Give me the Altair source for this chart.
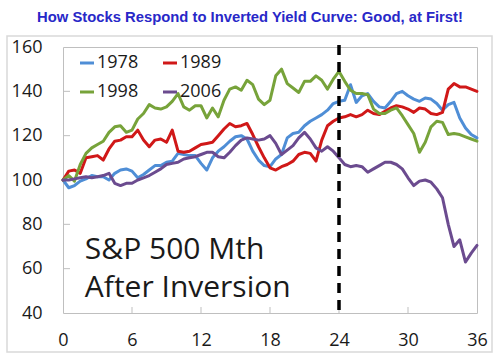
import altair as alt
import pandas as pd

# x positions: half-month steps 0 .. 36
months = [i / 2 for i in range(73)]

series_names = ["1978", "1989", "1998", "2006"]
series_colors = ["#4F8ED6", "#D01818", "#77A33A", "#6B4B8F"]

s1978 = [100, 96.5, 97.5, 99.5, 100.5, 102, 101.5, 101.5, 100, 103, 104.5, 105, 104,
         101, 102.5, 104.5, 106.5, 106.5, 108, 108.5, 112, 111.5, 111, 111, 107.5, 104.5,
         110, 113, 115, 117.5, 119.5, 120, 118.5, 113, 109, 106.5, 106, 109.5, 111.5,
         119, 121, 121.5, 124.5, 126.5, 128, 129.5, 131.5, 134.5, 135.5,
         136, 143, 135, 138, 139, 135.5, 133, 132.5, 135.5, 139, 140, 138, 136.5, 135.5,
         137, 136.5, 134.5, 131.5, 134, 135, 128, 123.5, 120.5, 119]
s1989 = [100, 104, 104.5, 103, 110, 110.5, 111, 109, 114, 117.5, 118, 119.5, 119.5,
         122.5, 118, 115, 118, 118.5, 117, 122.5, 113, 112.5, 113, 114.5, 116, 116.5,
         117, 120, 123, 125.5, 124, 124.5, 125.5, 120.5, 115, 110, 105.5, 104.5, 106,
         107, 108.5, 111.5, 112.5, 112, 108.5, 118, 124.5, 126.5, 128,
         128.5, 129.5, 128.5, 129.5, 131.5, 130, 129.5, 131, 132.5, 133.5, 133, 132,
         130.5, 132.5, 132, 130, 129.5, 130.5, 141, 143.5, 142, 142, 141, 140]
s1998 = [100, 102, 99.5, 107, 112, 114.5, 116, 117.5, 121.5, 124, 124.5, 121.5, 122.5,
         127.5, 130, 134, 132.5, 132, 133, 135.5, 139, 133, 131.5, 133.5, 133.5, 128,
         132.5, 128.5, 136, 141, 142, 140.5, 145, 143, 136.5, 134, 136, 147, 150,
         143.5, 141.5, 139.5, 144.5, 144.5, 147, 145, 141, 145.5, 149,
         144.5, 140.5, 139, 139, 138.5, 132, 130, 130, 131.5, 132.5, 129, 125, 121,
         112.5, 117, 124, 126.5, 126, 120.5, 121, 120.5, 119.5, 118.5, 117.5]
s2006 = [100, 100, 100.5, 101, 101.5, 101, 101.5, 102, 103, 98.5, 97.5, 98.5, 98.5,
         100, 101, 102, 103.5, 105, 107, 107.5, 108, 109.5, 110, 110.5, 111.5, 112.5,
         112.5, 110.5, 110, 112.5, 115.5, 118, 119, 118.5, 118, 118.5, 120, 116.5,
         111.5, 113.5, 115.5, 119, 121.5, 118.5, 114.5, 113, 115, 113, 110,
         107, 106, 106.5, 106, 103.5, 105, 106.5, 108, 108, 107, 105, 101, 97.5, 99.5,
         100, 99, 96, 92, 80, 70, 73, 63, 67, 70.5]

x_ticks = [0, 6, 12, 18, 24, 30, 36]
y_ticks = [40, 60, 80, 100, 120, 140, 160]
inversion_month = [24]
note_lines = ["S&P 500 Mth", "After Inversion"]
note_month = [1.9, 1.9]
note_value = [64.4, 47.2]
title_text = "How Stocks Respond to Inverted Yield Curve: Good, at First!"

rows = []
for name, vals in zip(series_names, [s1978, s1989, s1998, s2006]):
    for m, v in zip(months, vals):
        rows.append({"month": m, "value": v, "series": name})
df = pd.DataFrame(rows)

W, H = 414, 266
FONT = "Open Sans"

xs = alt.Scale(domain=[0, 36], nice=False, zero=False)
ys = alt.Scale(domain=[40, 160], nice=False, zero=False)

x_axis = alt.Axis(values=x_ticks, title=None, grid=False, domain=False, ticks=False,
                  labelPadding=18, labelFontSize=18, labelFont=FONT, labelColor="#1a1a1a",
                  labelFlush=False)
y_axis = alt.Axis(values=y_ticks, title=None, grid=False, domain=False, ticks=False,
                  labelPadding=21, labelFontSize=18, labelFont=FONT, labelColor="#1a1a1a")

# outer light frame
frame = alt.Chart(pd.DataFrame({"k": [0]})).mark_rect(
    filled=False, stroke="#D9D9D9", strokeWidth=1.5
).encode(x=alt.value(-56), x2=alt.value(429), y=alt.value(-11), y2=alt.value(305))

lines = alt.Chart(df).mark_line(strokeWidth=3, strokeJoin="round", strokeCap="round").encode(
    x=alt.X("month:Q", scale=xs, axis=x_axis),
    y=alt.Y("value:Q", scale=ys, axis=y_axis),
    color=alt.Color("series:N",
                    scale=alt.Scale(domain=series_names, range=series_colors),
                    legend=alt.Legend(orient="none", legendX=15, legendY=7, direction="horizontal",
                                      columns=2, title=None, symbolType="stroke",
                                      symbolStrokeWidth=3, symbolSize=196, labelOffset=1,
                                      labelFontSize=18, labelFont=FONT, labelColor="#1a1a1a",
                                      columnPadding=18, rowPadding=11, padding=0)),
    order="month:Q",
)

# inside tick marks
ytick_df = pd.DataFrame({"value": y_ticks[1:-1]})
yticks = alt.Chart(ytick_df).mark_rule(color="#BFBFBF", strokeWidth=1).encode(
    y=alt.Y("value:Q", scale=ys), x=alt.value(0), x2=alt.value(7))
xtick_df = pd.DataFrame({"month": x_ticks[1:-1]})
xticks = alt.Chart(xtick_df).mark_rule(color="#BFBFBF", strokeWidth=1).encode(
    x=alt.X("month:Q", scale=xs), y=alt.value(H), y2=alt.value(H - 6))

rule = alt.Chart(pd.DataFrame({"month": inversion_month})).mark_rule(
    color="black", strokeWidth=3.5, strokeDash=[10, 7]
).encode(x=alt.X("month:Q", scale=xs), y=alt.value(-2), y2=alt.value(H))

note = alt.Chart(pd.DataFrame({"month": note_month, "value": note_value, "text": note_lines})).mark_text(
    align="left", baseline="alphabetic", fontSize=30, font=FONT, color="#1a1a1a"
).encode(x=alt.X("month:Q", scale=xs), y=alt.Y("value:Q", scale=ys), text="text:N")

title = alt.Chart(pd.DataFrame({"text": [title_text]})).mark_text(
    align="center", baseline="alphabetic", fontSize=14.8, font="Liberation Sans",
    fontWeight="bold", color="#2828C8"
).encode(x=alt.value(187), y=alt.value(-25), text="text:N")

chart = alt.layer(frame, yticks, xticks, lines, rule, note, title).properties(
    width=W, height=H,
    autosize=alt.AutoSizeParams(type="none"),
    padding={"left": 63, "top": 47, "right": 23, "bottom": 44},
    background="white",
).configure_view(stroke="#BFBFBF", strokeWidth=1)

chart.save("out.html", embed_options={"renderer": "svg", "actions": False})
